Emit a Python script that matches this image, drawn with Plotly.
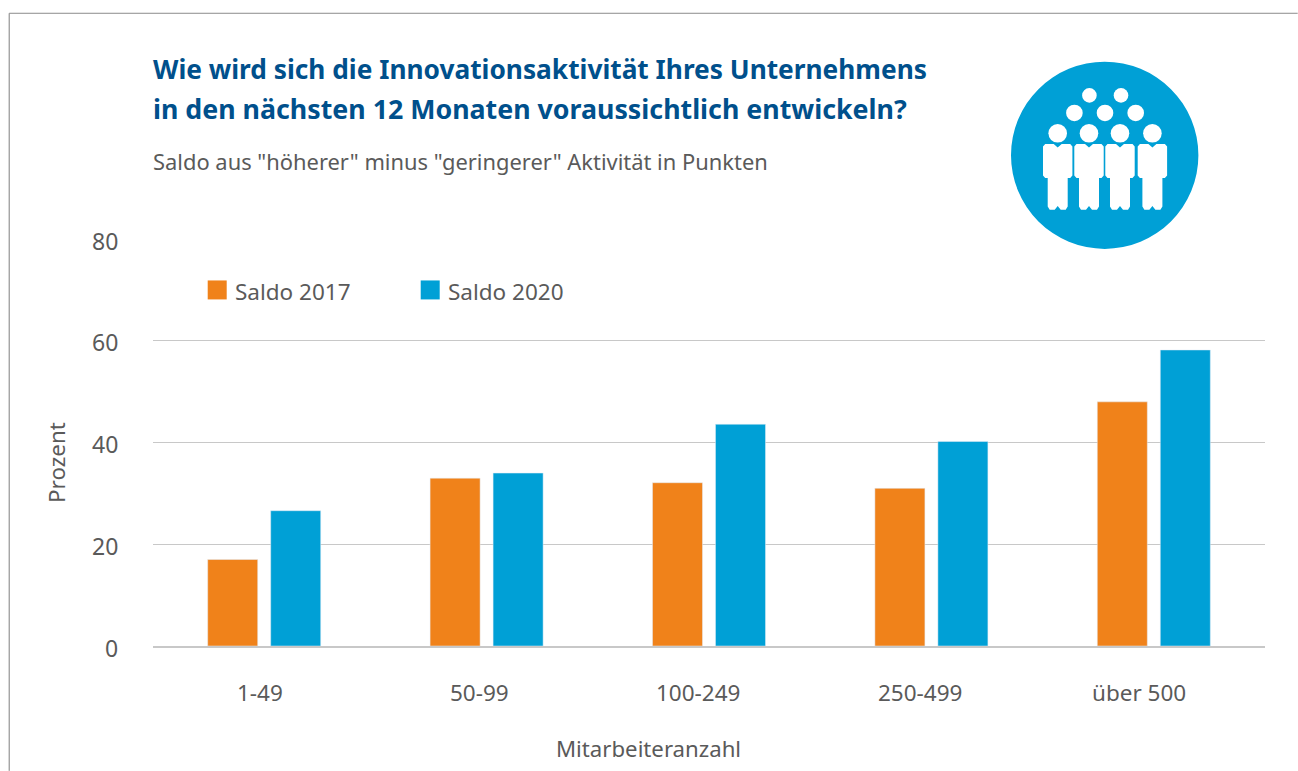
import plotly.graph_objects as go

categories = ["1-49", "50-99", "100-249", "250-499", "über 500"]
saldo_2017 = [17, 33, 32.1, 31, 48]
saldo_2020 = [26.6, 34, 43.6, 40.2, 58.2]
y_ticks = [0, 20, 40, 60, 80]

ORANGE = "#F0821A"
BLUE = "#00A0D6"
NAVY = "#00508C"
GREY = "#5A5A5A"
GRID = "#C8C8C8"
FONT = "Noto Sans, sans-serif"

W, H = 1298, 771
L, R, T, B = 153.3, 1265.3, 238.5, 646


# pixel -> paper, damit Icon und Texte wie im Original sitzen
def px(x):
    return (x - L) / (R - L)


def py(y):
    return (B - y) / (B - T)


def label(x, y, text, size, color=GREY, anchor="left", bold=False, angle=0):
    return dict(
        x=px(x), y=py(y), xref="paper", yref="paper", text=f"<b>{text}</b>" if bold else text,
        showarrow=False, xanchor=anchor, yanchor="middle", textangle=angle,
        font=dict(family=FONT, size=size, color=color),
    )


def circle(cx, cy, r, color="white"):
    return dict(type="circle", xref="paper", yref="paper", x0=px(cx - r), x1=px(cx + r),
                y0=py(cy + r), y1=py(cy - r), fillcolor=color, line_width=0, layer="above")


def box(x0, y0, x1, y1, color):
    return dict(type="rect", xref="paper", yref="paper", x0=px(x0), x1=px(x1),
                y0=py(y1), y1=py(y0), fillcolor=color, line_width=0, layer="above")


def person(cx):
    pts = [(-14.7, 146), (-12.5, 143.3), (-4, 143.3), (0, 147), (4, 143.3), (12.5, 143.3),
           (14.7, 146), (14.7, 175), (12.5, 177.3), (10, 177.3), (10, 206), (8, 209.3),
           (3, 209.3), (0, 205.5), (-3, 209.3), (-8, 209.3), (-10, 206), (-10, 177.3),
           (-12.5, 177.3), (-14.7, 175)]
    path = "M " + " L ".join(f"{px(cx + dx):.5f},{py(y):.5f}" for dx, y in pts) + " Z"
    return dict(type="path", xref="paper", yref="paper", path=path, fillcolor="white",
                line_width=0, layer="above")


shapes = [
    # Rahmen
    dict(type="line", xref="paper", yref="paper", x0=px(9.5), x1=px(9.5), y0=py(12.5), y1=py(771),
         line=dict(color="#7F7F7F", width=1)),
    dict(type="line", xref="paper", yref="paper", x0=px(9.5), x1=px(1298), y0=py(12.5), y1=py(12.5),
         line=dict(color="#8C8C8C", width=1)),
    # Legende
    box(208, 280, 227, 299, ORANGE),
    box(421, 280, 440, 299, BLUE),
    # Icon
    circle(1105, 154.7, 93.7, BLUE),
]
for cx, cy, r in [(1089.7, 94.7, 7.3), (1121.3, 94.7, 7.3),
                  (1074.7, 112.3, 8.3), (1105.3, 112.3, 8.3), (1136, 112.3, 8.3),
                  (1058, 132.7, 9.3), (1089.3, 132.7, 9.3), (1120.3, 132.7, 9.3), (1152.7, 132.7, 9.3)]:
    shapes.append(circle(cx, cy, r))
for cx in [1058, 1089.3, 1120.3, 1152.7]:
    shapes.append(person(cx))

annotations = [
    label(151, 68, "Wie wird sich die Innovationsaktivität Ihres Unternehmens", 26.27, NAVY, bold=True),
    label(151, 108, "in den nächsten 12 Monaten voraussichtlich entwickeln?", 26.77, NAVY, bold=True),
    label(151, 161, "Saldo aus \"höherer\" minus \"geringerer\" Aktivität in Punkten", 21.9),
    label(233, 291, "Saldo 2017", 22.5),
    label(446, 291, "Saldo 2020", 22.5),
    label(57, 462, "Prozent", 22.4, angle=-90, anchor="center"),
    label(649, 749, "Mitarbeiteranzahl", 22.2, anchor="center"),
]

# Achsenbeschriftung sitzt im Original leicht versetzt zu den Balken, daher per Annotation
x_shifts = [-4, -7.5, -11, -11.5, -15]
for cat, shift in zip(categories, x_shifts):
    annotations.append(dict(x=cat, y=py(693), xref="x", yref="paper", text=cat, showarrow=False,
                            xanchor="center", yanchor="middle", xshift=shift,
                            font=dict(family=FONT, size=22.5, color=GREY)))
for tick in y_ticks:
    annotations.append(dict(x=px(120), y=tick, xref="paper", yref="y", text=str(tick), showarrow=False,
                            xanchor="right", yanchor="middle", yshift=-1.5,
                            font=dict(family=FONT, size=23, color=GREY)))

fig = go.Figure()
fig.add_trace(go.Bar(x=categories, y=saldo_2017, name="Saldo 2017", marker_color=ORANGE))
fig.add_trace(go.Bar(x=categories, y=saldo_2020, name="Saldo 2020", marker_color=BLUE))

fig.update_layout(
    width=W, height=H,
    autosize=False,
    paper_bgcolor="white",
    plot_bgcolor="white",
    font=dict(family=FONT, size=22, color=GREY),
    margin=dict(l=L, r=W - R, t=T, b=H - B, pad=0),
    barmode="group",
    bargap=0.4335,
    bargroupgap=0.206,
    showlegend=False,
    shapes=shapes,
    annotations=annotations,
    xaxis=dict(showgrid=False, showline=True, linecolor=GRID, linewidth=1.5, ticks="",
               showticklabels=False, automargin=False),
    yaxis=dict(range=[0, 80.02], tickvals=y_ticks, gridcolor=GRID, gridwidth=1.2, zeroline=False, ticks="",
               showticklabels=False, automargin=False),
)

# Browser-Rand der Seite entfernen
fig.write_html("out.html", config={"displayModeBar": False},
               post_script="document.body.style.margin='0';")
